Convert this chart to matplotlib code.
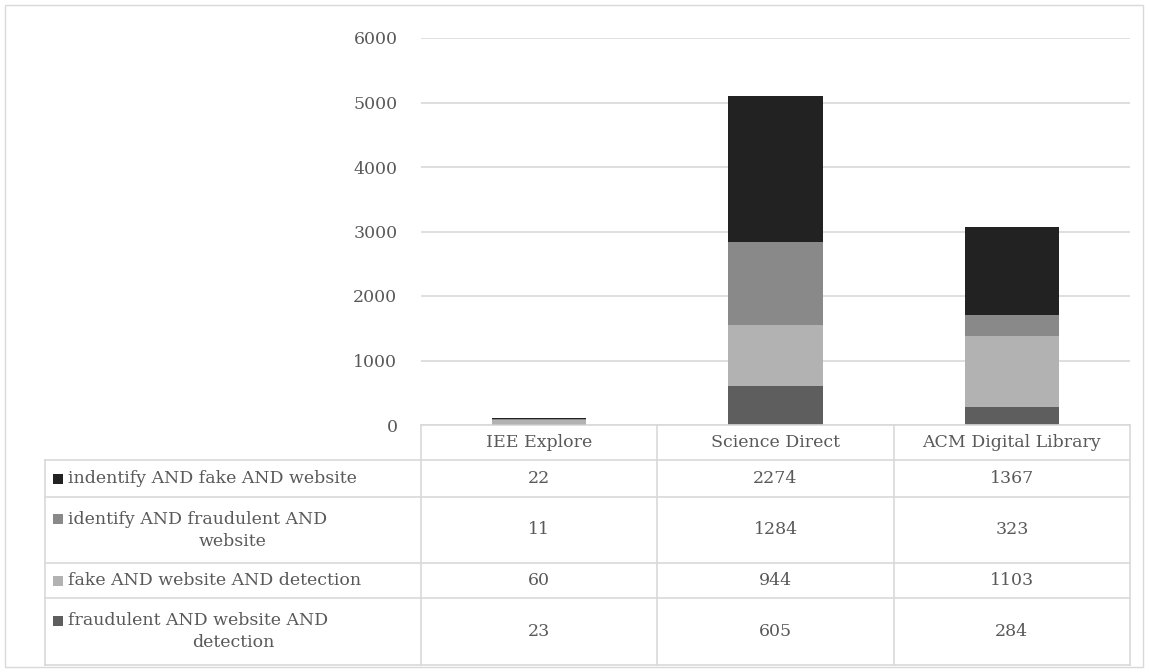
import matplotlib.pyplot as plt
from matplotlib.lines import Line2D
from matplotlib.patches import Rectangle

# Data
sources = ['IEE Explore', 'Science Direct', 'ACM Digital Library']
queries = ['fraudulent AND website AND\ndetection',
           'fake AND website AND detection',
           'identify AND fraudulent AND\nwebsite',
           'indentify AND fake AND website']
fraud_detect = [23, 605, 284]
fake_detect = [60, 944, 1103]
identify_fraud = [11, 1284, 323]
identify_fake = [22, 2274, 1367]
series = [fraud_detect, fake_detect, identify_fraud, identify_fake]
colors = ['#5e5e5e', '#b2b2b2', '#898989', '#222222']
yticks = [0, 1000, 2000, 3000, 4000, 5000, 6000]

W, H = 1149, 672
txt_color = '#595959'
grid_color = '#d9d9d9'
fs = 12.5
plt.rcParams['font.family'] = ['DejaVu Serif']

fig = plt.figure(figsize=(W / 100, H / 100), dpi=100)

# pixel helpers (y from top)
def fx(px):
    return px / W

def fy(py):
    return 1 - py / H

x0, x1 = 421, 1130
y_top, y_zero = 38, 425
ax = fig.add_axes([fx(x0), fy(y_zero), fx(x1) - fx(x0), fy(y_top) - fy(y_zero)])

bottom = [0, 0, 0]
for vals, c in zip(series, colors):
    ax.bar(range(len(sources)), vals, width=0.4, bottom=bottom, color=c, zorder=3)
    bottom = [b + v for b, v in zip(bottom, vals)]

ax.set_xlim(-0.5, len(sources) - 0.5)
ax.set_ylim(0, 6000)
ax.set_yticks(yticks)
ax.set_yticklabels([str(t) for t in yticks], fontsize=fs, color=txt_color)
ax.tick_params(axis='y', length=0, pad=17)
ax.set_xticks([])
ax.grid(axis='y', color=grid_color, linewidth=1.2, zorder=0)
for s in ax.spines.values():
    s.set_visible(False)

# outer chart border
fig.add_artist(Rectangle((fx(5), fy(667)), fx(1143) - fx(5), fy(5) - fy(667),
                         transform=fig.transFigure, fill=False,
                         edgecolor=grid_color, linewidth=1))

# data table under the bars
col_w = (x1 - x0) / len(sources)
row_edges = [425, 460, 497, 563, 598, 665]
lab_left = 45

def hline(xa, xb, y):
    fig.add_artist(Line2D([fx(xa), fx(xb)], [fy(y), fy(y)], color=grid_color, linewidth=1.2))

def vline(x, ya, yb):
    fig.add_artist(Line2D([fx(x), fx(x)], [fy(ya), fy(yb)], color=grid_color, linewidth=1.2))

hline(x0, x1, row_edges[0])
for y in row_edges[1:]:
    hline(lab_left, x1, y)
vline(lab_left, row_edges[1], row_edges[-1])
for i in range(len(sources) + 1):
    vline(x0 + i * col_w, row_edges[0], row_edges[-1])

for i, name in enumerate(sources):
    fig.text(fx(x0 + (i + 0.5) * col_w), fy((row_edges[0] + row_edges[1]) / 2), name,
             ha='center', va='center', fontsize=fs, color=txt_color)

# table rows go top to bottom: last series first
for r, k in enumerate(range(len(series) - 1, -1, -1)):
    yc = (row_edges[r + 1] + row_edges[r + 2]) / 2
    label = queries[k]
    first, _, rest = label.partition('\n')
    sq_y = yc - 11 if rest else yc
    fig.add_artist(Rectangle((fx(53), fy(sq_y + 5)), fx(10), 10 / H,
                             transform=fig.transFigure, color=colors[k], linewidth=0))
    if rest:
        fig.text(fx(68), fy(yc - 11), first, ha='left', va='center', fontsize=fs, color=txt_color)
        fig.text(fx((lab_left + x0) / 2), fy(yc + 11), rest, ha='center', va='center',
                 fontsize=fs, color=txt_color)
    else:
        fig.text(fx(68), fy(yc), first, ha='left', va='center', fontsize=fs, color=txt_color)
    for i in range(len(sources)):
        fig.text(fx(x0 + (i + 0.5) * col_w), fy(yc), str(series[k][i]),
                 ha='center', va='center', fontsize=fs, color=txt_color)

fig.savefig('out.png', dpi=100)
